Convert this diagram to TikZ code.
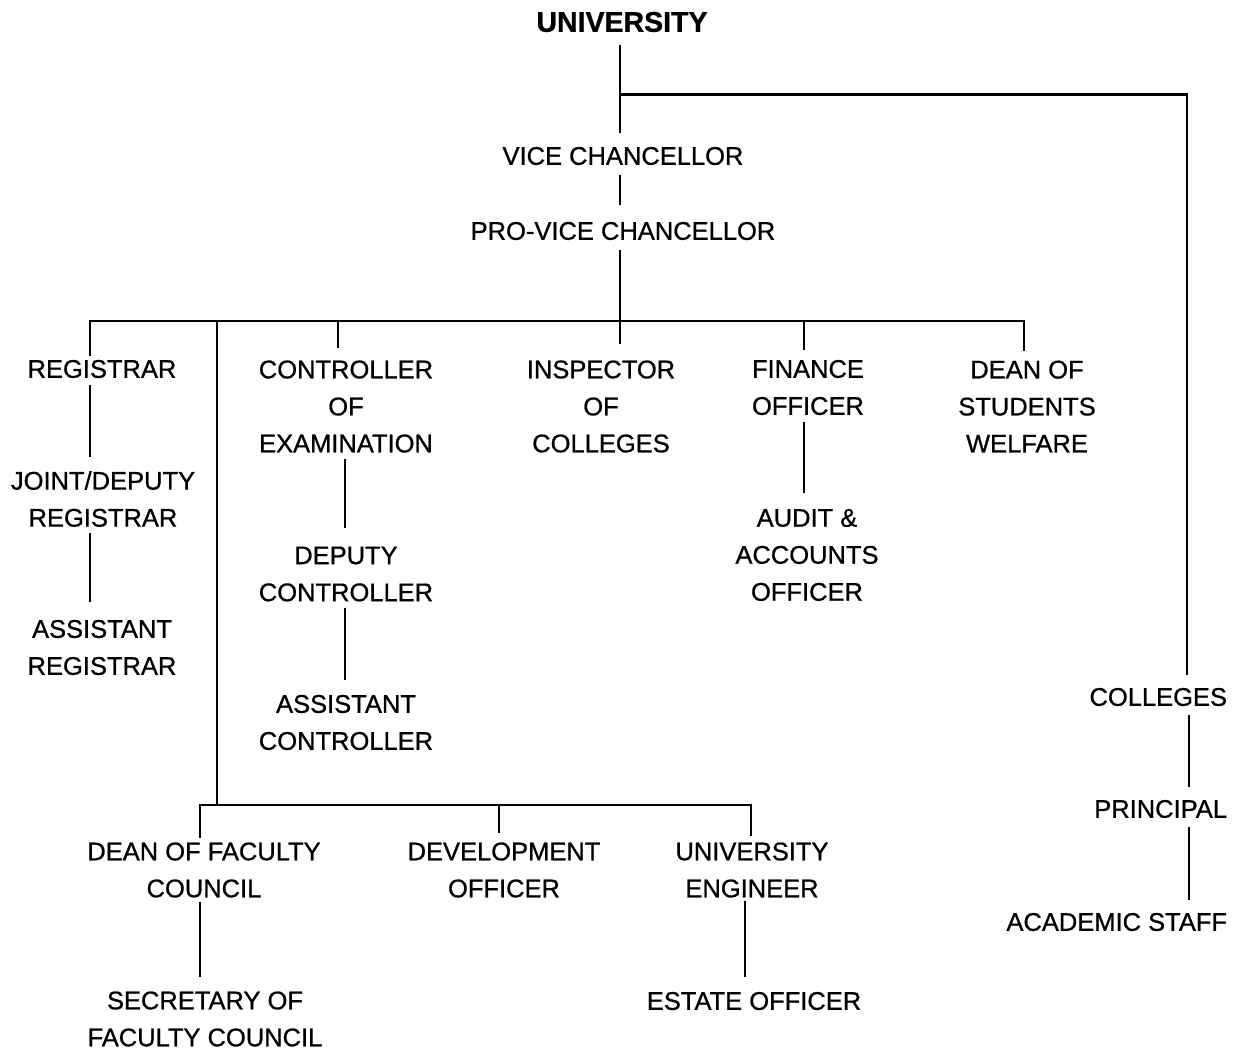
\documentclass[tikz,border=0pt]{standalone}
\usepackage{fontspec}
\setmainfont{Liberation Sans}[RawFeature={embolden=0.8}]
\usetikzlibrary{calc}
\begin{document}
\begin{tikzpicture}[x=1pt,y=-1pt,
  lbl/.style={inner sep=0pt,outer sep=0pt,align=center,font=\fontsize{25.5}{37}\selectfont},
  title/.style={inner sep=0pt,outer sep=0pt,font=\fontsize{28.5}{34}\selectfont\bfseries},
  lnk/.style={line width=2.2pt}]
\useasboundingbox (0,0) rectangle (1239,1052);
% x positions of connector lines
\coordinate (xT) at (620,0);
\coordinate (xR) at (1187,0);
\coordinate (xReg) at (90,0);
\coordinate (xCtlDrop) at (338,0);
\coordinate (xCtl) at (345,0);
\coordinate (xFin) at (804,0);
\coordinate (xDean) at (1024,0);
\coordinate (xLong) at (217,0);
\coordinate (xDfc) at (200,0);
\coordinate (xDev) at (499,0);
\coordinate (xUe) at (751,0);
\coordinate (xEo) at (745,0);
\coordinate (xCol) at (1189,0);
\coordinate (yBar) at (0,321);
\coordinate (yLow) at (0,805);
% nodes
\node[title] (univ) at (622,22) {UNIVERSITY};
\node[lbl] (vc) at (623,156) {VICE CHANCELLOR};
\node[lbl] (pvc) at (623,231) {PRO-VICE CHANCELLOR};
\node[lbl] (reg) at (102,369) {REGISTRAR};
\node[lbl] (jdr) at (103,499) {JOINT/DEPUTY\\REGISTRAR};
\node[lbl] (ar) at (102,647.5) {ASSISTANT\\REGISTRAR};
\node[lbl] (coe) at (346,406.5) {CONTROLLER\\OF\\EXAMINATION};
\node[lbl] (dc) at (346,574) {DEPUTY\\CONTROLLER};
\node[lbl] (ac) at (346,722.5) {ASSISTANT\\CONTROLLER};
\node[lbl] (ioc) at (601,406.5) {INSPECTOR\\OF\\COLLEGES};
\node[lbl] (fo) at (808,387.5) {FINANCE\\OFFICER};
\node[lbl] (aao) at (807,555) {AUDIT \&\\ACCOUNTS\\OFFICER};
\node[lbl] (dsw) at (1027,406.5) {DEAN OF\\STUDENTS\\WELFARE};
\node[lbl] (dfc) at (204,870) {DEAN OF FACULTY\\COUNCIL};
\node[lbl] (sfc) at (205,1019) {SECRETARY OF\\FACULTY COUNCIL};
\node[lbl] (dev) at (504,870) {DEVELOPMENT\\OFFICER};
\node[lbl] (ue) at (752,870) {UNIVERSITY\\ENGINEER};
\node[lbl] (eo) at (754,1001) {ESTATE OFFICER};
\node[lbl,anchor=east] (col) at (1227,697) {COLLEGES};
\node[lbl,anchor=east] (prin) at (1227,809) {PRINCIPAL};
\node[lbl,anchor=east] (acs) at (1227,922) {ACADEMIC STAFF};
% connectors
\draw[lnk] ($(univ.south -| xT)+(0,12.5)$) -- ($(vc.north -| xT)+(0,-14)$);
\draw[lnk] ($(univ.south -| xT)+(0,62.5)$) -| ($(col.north -| xR)+(0,-12.5)$);
\draw[lnk] ($(vc.south -| xT)+(0,9.5)$) -- ($(pvc.north -| xT)+(0,-16.5)$);
\draw[lnk] ($(pvc.south -| xT)+(0,9.5)$) -- (xT |- yBar);
\draw[lnk] ($(reg.north -| xReg)+(0,-4)$) -- (xReg |- yBar) -- (xDean |- yBar) -- ($(dsw.north -| xDean)+(0,-9.5)$);
\draw[lnk] (xCtlDrop |- yBar) -- ($(coe.north -| xCtlDrop)+(0,-12.5)$);
\draw[lnk] (xT |- yBar) -- ($(ioc.north -| xT)+(0,-16.5)$);
\draw[lnk] (xFin |- yBar) -- ($(fo.north -| xFin)+(0,-9.5)$);
\draw[lnk] (xLong |- yBar) -- (xLong |- yLow);
\draw[lnk] ($(dfc.north -| xDfc)+(0,-4.5)$) -- (xDfc |- yLow) -- (xUe |- yLow) -- ($(ue.north -| xUe)+(0,-6.5)$);
\draw[lnk] (xDev |- yLow) -- ($(dev.north -| xDev)+(0,-9.5)$);
\draw[lnk] ($(reg.south -| xReg)+(0,6.5)$) -- ($(jdr.north -| xReg)+(0,-14.5)$);
\draw[lnk] ($(jdr.south -| xReg)+(0,6.5)$) -- ($(ar.north -| xReg)+(0,-17.5)$);
\draw[lnk] ($(coe.south -| xCtl)+(0,6.5)$) -- ($(dc.north -| xCtl)+(0,-18.5)$);
\draw[lnk] ($(dc.south -| xCtl)+(0,6.5)$) -- ($(ac.north -| xCtl)+(0,-14.5)$);
\draw[lnk] ($(fo.south -| xFin)+(0,6.5)$) -- ($(aao.north -| xFin)+(0,-16.5)$);
\draw[lnk] ($(dfc.south -| xDfc)+(0,4.5)$) -- ($(sfc.north -| xDfc)+(0,-14.5)$);
\draw[lnk] ($(ue.south -| xEo)+(0,3.5)$) -- ($(eo.north -| xEo)+(0,-14.5)$);
\draw[lnk] ($(col.south -| xCol)+(0,8.5)$) -- ($(prin.north -| xCol)+(0,-12.5)$);
\draw[lnk] ($(prin.south -| xCol)+(0,8.5)$) -- ($(acs.north -| xCol)+(0,-12.5)$);
\end{tikzpicture}
\end{document}
